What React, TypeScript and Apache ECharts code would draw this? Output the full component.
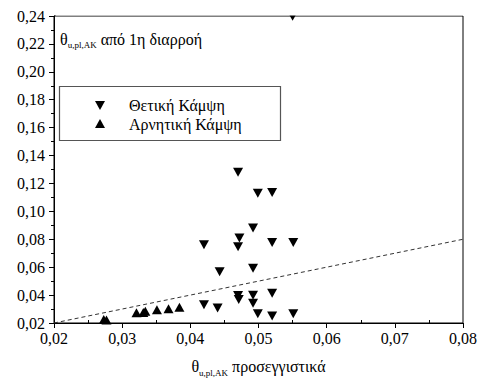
import React, { useEffect, useRef } from "react";
import * as echarts from "echarts";

const xMinorTicks = [0.025, 0.035, 0.045, 0.055, 0.065, 0.075];
const positiveBending: [number, number][] = [
  [0.042, 0.076], [0.0443, 0.0568], [0.042, 0.0331], [0.044, 0.0308],
  [0.047, 0.128], [0.0472, 0.081], [0.047, 0.0747], [0.047, 0.0397],
  [0.0471, 0.0368], [0.0499, 0.113], [0.052, 0.1135], [0.0492, 0.088],
  [0.052, 0.0776], [0.0551, 0.0776], [0.0492, 0.0592], [0.0492, 0.0399],
  [0.0492, 0.0341], [0.052, 0.0413], [0.0499, 0.0267], [0.052, 0.025],
  [0.0551, 0.0267], [0.055, 0.2399],
];
const negativeBending: [number, number][] = [
  [0.0273, 0.0225], [0.0277, 0.0222], [0.0321, 0.0274], [0.0331, 0.0275],
  [0.0334, 0.0285], [0.0351, 0.0295], [0.0368, 0.0302], [0.0384, 0.0313],
];
const equalityLine: [number, number][] = [[0.02, 0.02], [0.08, 0.08]];
const seriesNames = ["Θετική Κάμψη", "Αρνητική Κάμψη"];

const FONT = "Liberation Serif";
const fmt = (v: number) => v.toFixed(2).replace(".", ",");

export default function App() {
  const ref = useRef<HTMLDivElement>(null);
  useEffect(() => {
    if (!ref.current) return;
    const chart = echarts.init(ref.current, undefined, { renderer: "svg" });
    const sub = {
      t: { fontSize: 16, fontFamily: FONT, color: "#000" },
      s: { fontSize: 9, fontFamily: FONT, color: "#000", padding: [12, 0, 0, 0] },
    };
    chart.setOption({
      animation: false,
      textStyle: { fontFamily: FONT },
      grid: { left: 54, right: 18, top: 16, bottom: 60, show: true, borderColor: "#000", borderWidth: 1, containLabel: false },
      xAxis: [
        {
          type: "value",
          min: 0.02,
          max: 0.08,
          interval: 0.01,
          splitLine: { show: false },
          axisLine: { show: true, lineStyle: { color: "#000", width: 1 } },
          axisTick: { show: true, inside: false, length: 5, lineStyle: { color: "#000" } },
          axisLabel: { color: "#000", fontSize: 16, fontFamily: FONT, margin: 7, formatter: fmt },
          name: "{t|θ}{s|u,pl,AK}{t| προσεγγιστικά}",
          nameLocation: "middle",
          nameGap: 33,
          nameTextStyle: { rich: sub },
        },
        {
          type: "value",
          position: "bottom",
          min: 0.02,
          max: 0.08,
          interval: 0.01,
          splitLine: { show: false },
          axisLine: { show: false },
          axisTick: { show: true, inside: true, length: 3, customValues: xMinorTicks, lineStyle: { color: "#000" } },
          axisLabel: { show: false },
        },
      ],
      yAxis: {
        type: "value",
        min: 0.02,
        max: 0.24,
        interval: 0.02,
        splitLine: { show: false },
        axisLine: { show: true, lineStyle: { color: "#000", width: 1 } },
        axisTick: { show: true, inside: false, length: 5, lineStyle: { color: "#000" } },
        minorTick: { show: true, splitNumber: 2, length: 3, lineStyle: { color: "#000" } },
        axisLabel: { color: "#000", fontSize: 16, fontFamily: FONT, margin: 9, formatter: fmt },
      },
      series: [
        {
          type: "line",
          data: equalityLine,
          symbol: "none",
          silent: true,
          lineStyle: { color: "#333", width: 1, type: [4, 3] },
        },
        {
          name: seriesNames[0],
          type: "scatter",
          data: positiveBending,
          symbol: "triangle",
          symbolRotate: 180,
          symbolSize: [10, 9],
          itemStyle: { color: "#000", opacity: 1 },
          clip: true,
        },
        {
          name: seriesNames[1],
          type: "scatter",
          data: negativeBending,
          symbol: "triangle",
          symbolSize: [10, 9],
          itemStyle: { color: "#000", opacity: 1 },
          clip: true,
        },
      ],
      graphic: [
        {
          type: "rect",
          z: 100,
          shape: { x: 56, y: 0, width: 425, height: 15.4 },
          style: { fill: "#fff" },
        },
        {
          type: "text",
          left: 60,
          top: 31,
          style: {
            text: "{t|θ}{s|u,pl,AK}{t| από 1η διαρροή}",
            rich: sub,
          },
        },
        {
          type: "rect",
          shape: { x: 59.5, y: 86.5, width: 221, height: 54 },
          style: { fill: "#fff", stroke: "#555", lineWidth: 1.2 },
        },
        {
          type: "polygon",
          shape: { points: [[95, 101], [105, 101], [100, 110]] },
          style: { fill: "#000" },
        },
        {
          type: "polygon",
          shape: { points: [[95, 128], [105, 128], [100, 119]] },
          style: { fill: "#000" },
        },
        {
          type: "text",
          x: 129,
          y: 105,
          style: { text: seriesNames[0], fontSize: 16, fontFamily: FONT, fill: "#000", verticalAlign: "middle" },
        },
        {
          type: "text",
          x: 129,
          y: 124,
          style: { text: seriesNames[1], fontSize: 16, fontFamily: FONT, fill: "#000", verticalAlign: "middle" },
        },
      ],
    });
    const root = chart.getDom();
    root.querySelectorAll("text").forEach((t) => {
      t.setAttribute("font-family", "Liberation Serif, serif");
      (t as SVGTextElement).style.fontFamily = "'Liberation Serif', serif";
    });
    return () => chart.dispose();
  }, []);
  return <div ref={ref} style={{ width: 481, height: 383, position: "absolute", left: 0, top: 0 }} />;
}
